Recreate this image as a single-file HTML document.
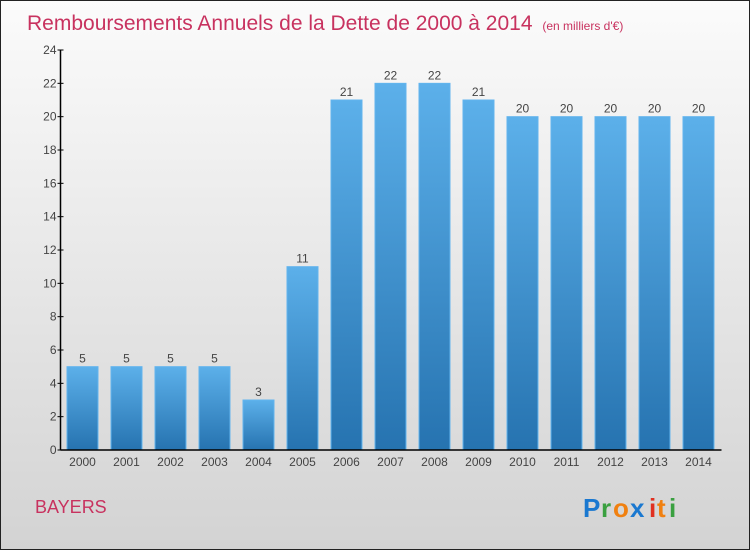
<!DOCTYPE html>
<html><head><meta charset="utf-8"><style>
html,body{margin:0;padding:0}
body{width:750px;height:550px;overflow:hidden;font-family:"Liberation Sans",sans-serif}
#wrap{position:absolute;left:0;top:0;width:748px;height:548px;border:1px solid #222;background:linear-gradient(#fbfbfb,#d3d3d3)}
</style></head><body>
<div id="wrap">
<svg id="chart" width="748" height="548">
<defs><linearGradient id="bg" x1="0" y1="0" x2="0" y2="1"><stop offset="0" stop-color="#5cb0ea"/><stop offset="1" stop-color="#2673b0"/></linearGradient></defs>
<text x="26" y="29" font-size="21" fill="#c8325f">Remboursements Annuels de la Dette de 2000 à 2014 <tspan font-size="12" dx="4">(en milliers d'€)</tspan></text>
<text x="34" y="512" font-size="18" fill="#c8325f">BAYERS</text>
<g font-size="26" font-weight="bold">
<text x="582" y="516" fill="#1a78d0">P</text><text x="600" y="516" fill="#3aa040">r</text><text x="612" y="516" fill="#f08010">o</text><text x="629" y="516" fill="#1a78d0">x</text><text x="648" y="516" fill="#e03020">i</text><text x="656" y="516" fill="#f08010">t</text><text x="668" y="516" fill="#3aa040">i</text>
</g>
<g id="plot"></g>
</svg>
</div>
<script>
const categories=["2000","2001","2002","2003","2004","2005","2006","2007","2008","2009","2010","2011","2012","2013","2014"];
const values=[5,5,5,5,3,11,21,22,22,21,20,20,20,20,20];
const yTicks=[0,2,4,6,8,10,12,14,16,18,20,22,24];
const NS="http://www.w3.org/2000/svg";
const g=document.getElementById('plot');
const x0=59.5,band=44,y0=449,yMax=24,ph=400;
const y=v=>y0-v/yMax*ph;
const xc=i=>x0+band*i+band/2;
function mk(t,a){const e=document.createElementNS(NS,t);for(const k in a)e.setAttribute(k,a[k]);g.appendChild(e);return e;}
values.forEach((v,i)=>{
 const r=mk('rect',{x:xc(i)-15.5,y:y(v),width:31,height:y0-y(v),fill:'url(#bg)',stroke:'#62b4ee','stroke-width':1});
 
 
 const t=mk('text',{x:xc(i),y:y(v)-4,'font-size':12,fill:'#444','text-anchor':'middle'});
 t.textContent=v;
 
 
 const c=mk('text',{x:xc(i),y:y0+16,'font-size':12,fill:'#444','text-anchor':'middle'});
 c.textContent=categories[i];
 
 
});
yTicks.forEach(v=>{
 mk('line',{x1:x0-3,x2:x0+3,y1:y(v),y2:y(v),stroke:'#000'});
 const t=mk('text',{x:x0-4,y:y(v)+4,'font-size':12,fill:'#444','text-anchor':'end'});
 t.textContent=v;
 
 
});
const ya=mk('line',{x1:x0,x2:x0,y1:y(24),y2:y0,stroke:'#000','stroke-width':1.5});


const xa=mk('line',{x1:x0,x2:x0+band*categories.length+1,y1:y0,y2:y0,stroke:'#000','stroke-width':1.5});


</script>
</body></html>
